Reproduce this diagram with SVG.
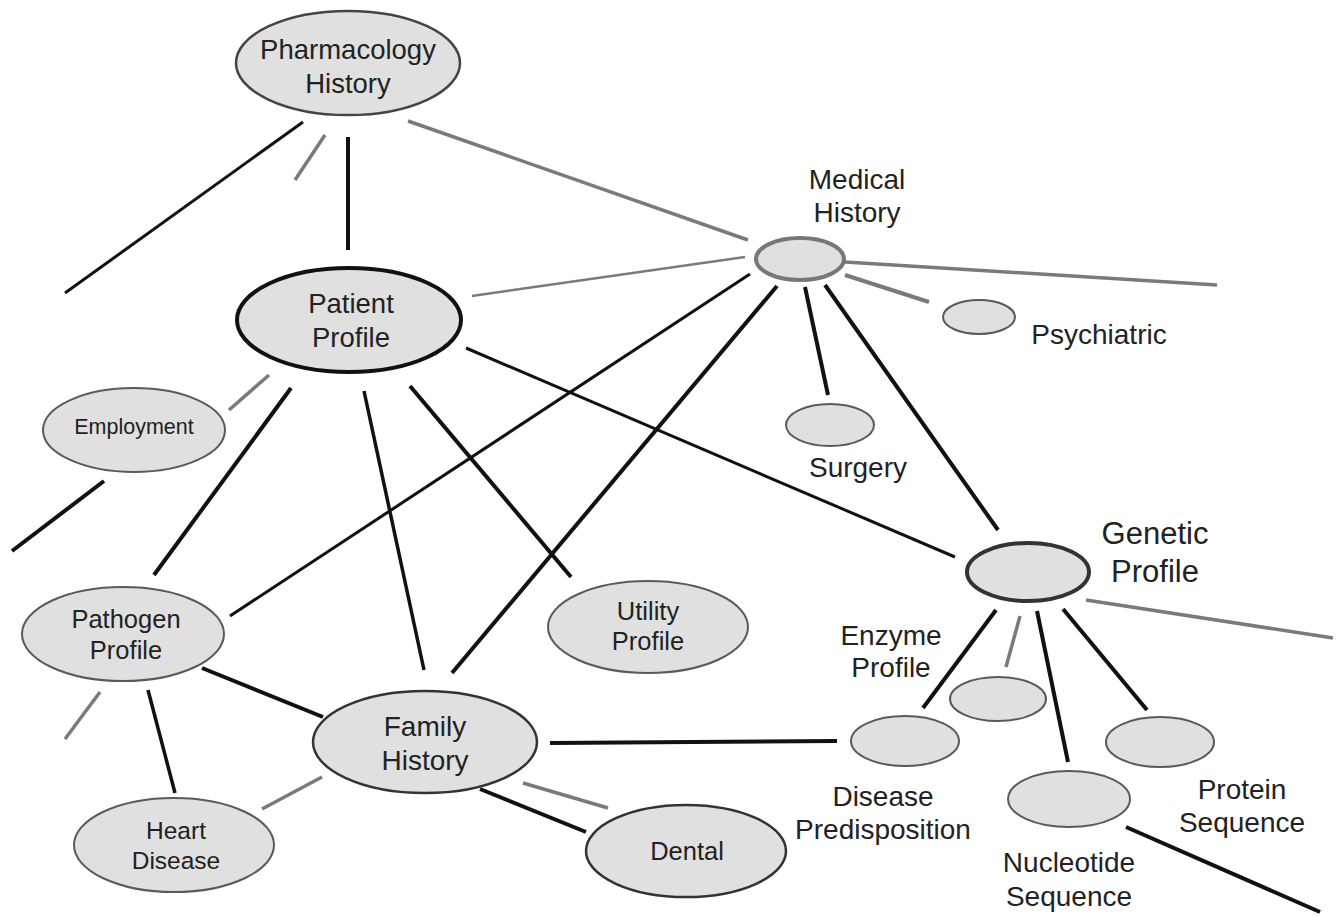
<svg xmlns="http://www.w3.org/2000/svg" width="1337" height="917" viewBox="0 0 1337 917">
<style>
.n{fill:#e0e0e0;stroke:#5a5a5a;stroke-width:2}
.t{font-family:"Liberation Sans",Arial,sans-serif;fill:#222;text-anchor:middle}
.o{font-size:28px}
.k{stroke:#111;stroke-width:4;stroke-linecap:butt;fill:none}
.g{stroke:#7a7a7a;stroke-width:3.5;fill:none}
</style>
<rect width="1337" height="917" fill="#fff"/>
<g id="connectors">
<line class="k" x1="303" y1="122" x2="65" y2="293" style="stroke-width:3"/>
<line class="g" x1="325" y1="135" x2="295" y2="180"/>
<line class="k" x1="348" y1="137" x2="348" y2="250"/>
<line class="g" x1="408" y1="121" x2="748" y2="240"/>
<line class="g" x1="472" y1="296" x2="745" y2="257" style="stroke-width:2.5"/>
<line class="g" x1="845" y1="262" x2="1217" y2="285"/>
<line class="g" x1="845" y1="275" x2="929" y2="302" style="stroke-width:4"/>
<line class="k" x1="805" y1="287" x2="828" y2="395"/>
<line class="k" x1="825" y1="285" x2="998" y2="530"/>
<line class="k" x1="750" y1="274" x2="230" y2="616" style="stroke-width:3"/>
<line class="k" x1="777" y1="286" x2="452" y2="673"/>
<line class="k" x1="466" y1="348" x2="955" y2="557" style="stroke-width:3"/>
<line class="g" x1="269" y1="375" x2="229" y2="410"/>
<line class="k" x1="291" y1="388" x2="154" y2="575"/>
<line class="k" x1="364" y1="391" x2="424" y2="670" style="stroke-width:3.5"/>
<line class="k" x1="410" y1="386" x2="571" y2="577"/>
<line class="k" x1="104" y1="481" x2="12" y2="551"/>
<line class="k" x1="202" y1="668" x2="323" y2="717"/>
<line class="g" x1="100" y1="692" x2="65" y2="739"/>
<line class="k" x1="148" y1="690" x2="175" y2="793" style="stroke-width:3.5"/>
<line class="g" x1="262" y1="809" x2="322" y2="777"/>
<line class="k" x1="550" y1="743" x2="837" y2="741"/>
<line class="k" x1="480" y1="789" x2="586" y2="832"/>
<line class="g" x1="523" y1="783" x2="608" y2="808"/>
<line class="g" x1="1086" y1="600" x2="1333" y2="638"/>
<line class="k" x1="996" y1="610" x2="923" y2="708"/>
<line class="g" x1="1020" y1="616" x2="1006" y2="667"/>
<line class="k" x1="1037" y1="611" x2="1068" y2="762"/>
<line class="k" x1="1063" y1="609" x2="1147" y2="710"/>
<line class="k" x1="1126" y1="827" x2="1320" y2="912"/>
</g>
<g id="pharmacology-history">
<ellipse class="n" cx="348" cy="63" rx="112" ry="52" style="stroke:#444;stroke-width:2.5"/>
<text class="t" x="348" y="59" font-size="27.5">Pharmacology</text>
<text class="t" x="348" y="93" font-size="27.5">History</text>
</g>
<g id="patient-profile">
<ellipse class="n" cx="349" cy="320" rx="112" ry="52" style="stroke:#111;stroke-width:4"/>
<text class="t" x="351" y="313" font-size="27.5">Patient</text>
<text class="t" x="351" y="347" font-size="27.5">Profile</text>
</g>
<g id="medical-history">
<ellipse class="n" cx="800" cy="259" rx="44" ry="21" style="stroke:#777;stroke-width:4"/>
<text class="t o" x="857" y="189">Medical</text>
<text class="t o" x="857" y="222">History</text>
</g>
<g id="psychiatric">
<ellipse class="n" cx="979" cy="317" rx="36" ry="17"/>
<text class="t o" x="1099" y="344">Psychiatric</text>
</g>
<g id="surgery">
<ellipse class="n" cx="830" cy="425" rx="44" ry="21"/>
<text class="t o" x="858" y="477">Surgery</text>
</g>
<g id="genetic-profile">
<ellipse class="n" cx="1028" cy="572" rx="61" ry="29" style="stroke:#333;stroke-width:4"/>
<text class="t" x="1155" y="544" font-size="31">Genetic</text>
<text class="t" x="1155" y="582" font-size="31">Profile</text>
</g>
<g id="employment">
<ellipse class="n" cx="134" cy="430" rx="91" ry="42"/>
<text class="t" x="134" y="434" font-size="21.5">Employment</text>
</g>
<g id="pathogen-profile">
<ellipse class="n" cx="123" cy="634" rx="101" ry="47"/>
<text class="t" x="126" y="628" font-size="25.5">Pathogen</text>
<text class="t" x="126" y="659" font-size="25.5">Profile</text>
</g>
<g id="utility-profile">
<ellipse class="n" cx="648" cy="627" rx="100" ry="46"/>
<text class="t" x="648" y="620" font-size="25.5">Utility</text>
<text class="t" x="648" y="650" font-size="25.5">Profile</text>
</g>
<g id="family-history">
<ellipse class="n" cx="425" cy="742" rx="112" ry="51" style="stroke:#333;stroke-width:2.5"/>
<text class="t" x="425" y="736" font-size="28">Family</text>
<text class="t" x="425" y="770" font-size="28">History</text>
</g>
<g id="heart-disease">
<ellipse class="n" cx="174" cy="845" rx="100" ry="47"/>
<text class="t" x="176" y="839" font-size="24.5">Heart</text>
<text class="t" x="176" y="869" font-size="24.5">Disease</text>
</g>
<g id="dental">
<ellipse class="n" cx="686" cy="851" rx="100" ry="46" style="stroke:#333;stroke-width:2.5"/>
<text class="t" x="687" y="860" font-size="25.5">Dental</text>
</g>
<g id="enzyme-profile">
<ellipse class="n" cx="998" cy="699" rx="48" ry="22"/>
<text class="t o" x="891" y="645">Enzyme</text>
<text class="t o" x="891" y="677">Profile</text>
</g>
<g id="disease-predisposition">
<ellipse class="n" cx="905" cy="741" rx="54" ry="25"/>
<text class="t o" x="883" y="806">Disease</text>
<text class="t o" x="883" y="839">Predisposition</text>
</g>
<g id="nucleotide-sequence">
<ellipse class="n" cx="1069" cy="799" rx="61" ry="28"/>
<text class="t o" x="1069" y="872">Nucleotide</text>
<text class="t o" x="1069" y="906">Sequence</text>
</g>
<g id="protein-sequence">
<ellipse class="n" cx="1160" cy="742" rx="54" ry="25"/>
<text class="t o" x="1242" y="799">Protein</text>
<text class="t o" x="1242" y="832">Sequence</text>
</g>
</svg>
